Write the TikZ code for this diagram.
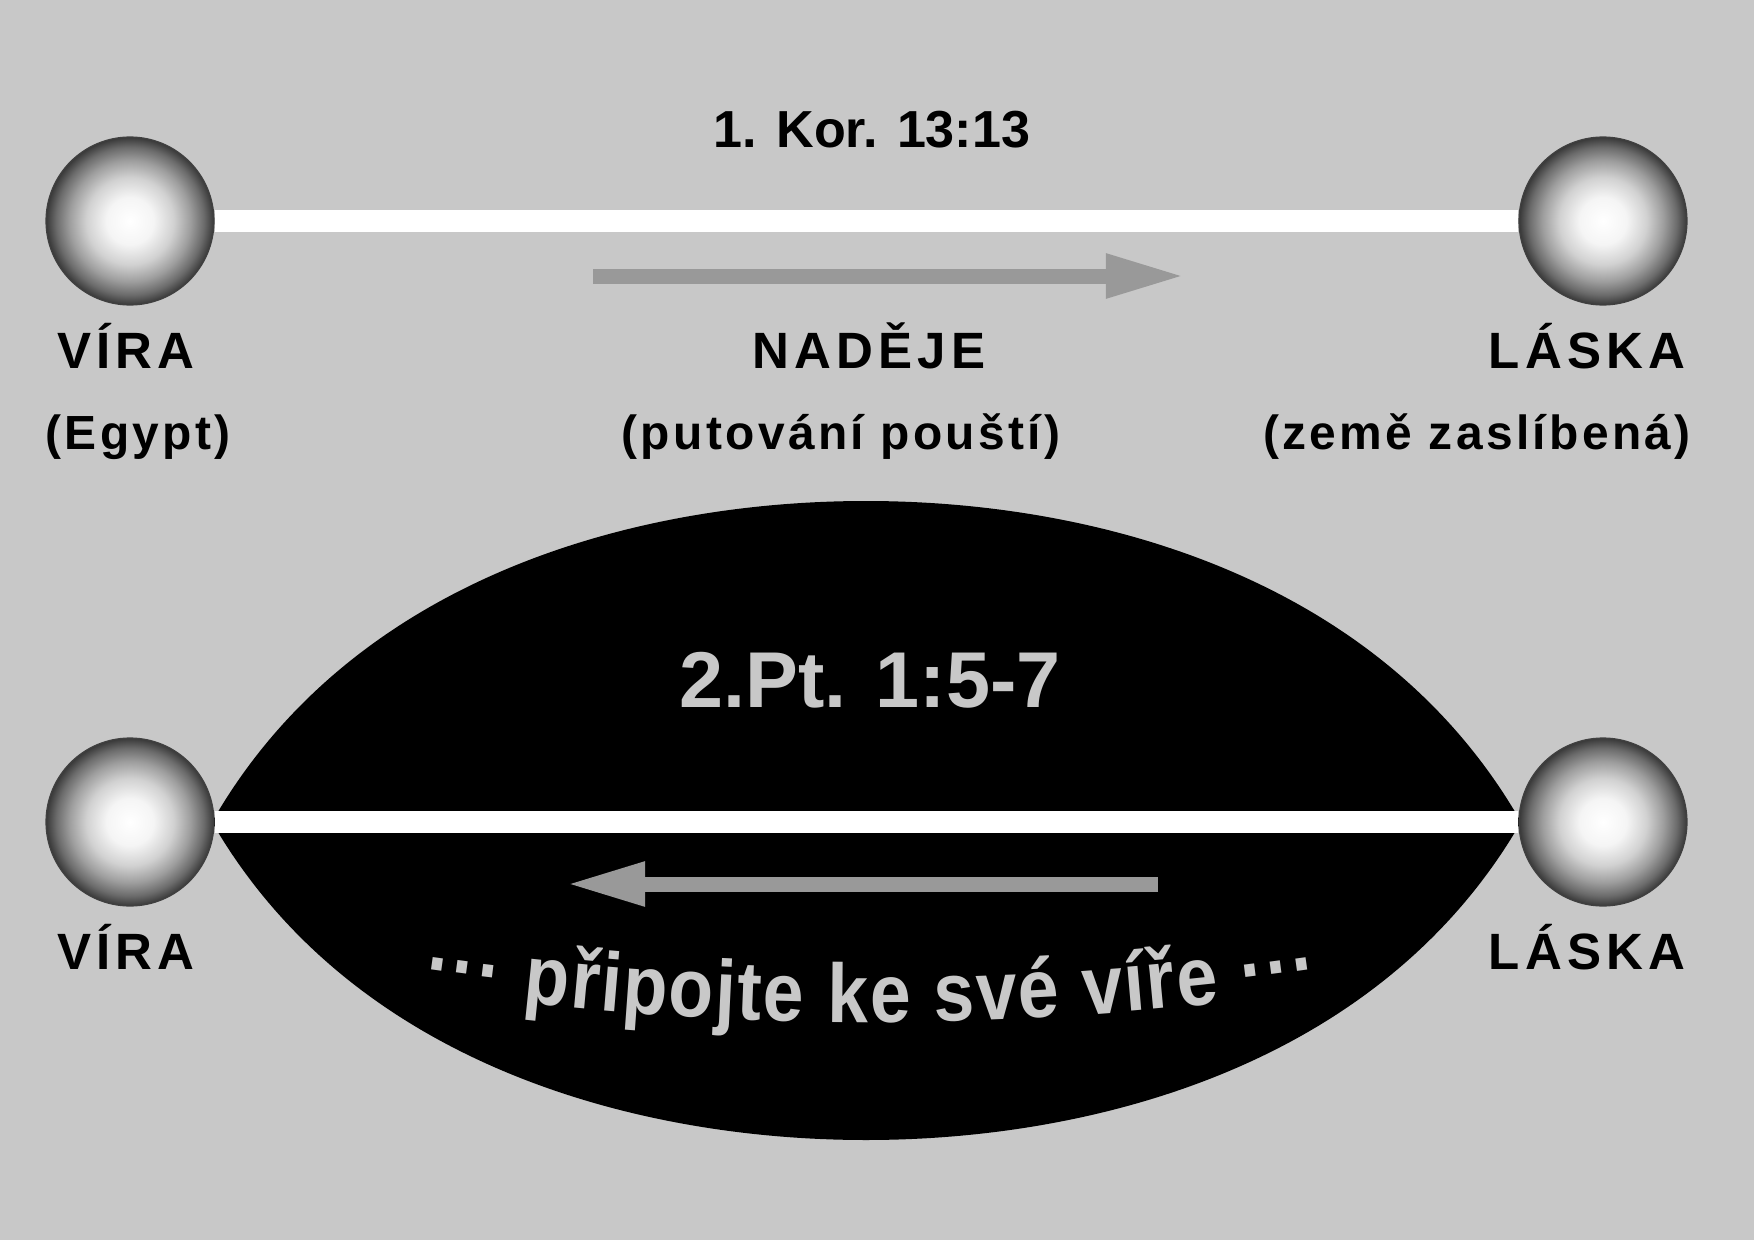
\documentclass[tikz,border=0pt]{standalone}
\usepackage{fontspec}
\setmainfont{Liberation Sans}
\newfontfamily\trackfont[LetterSpace=10]{Liberation Sans}
\newfontfamily\softtrack[LetterSpace=7]{Liberation Sans}
\newfontfamily\archfont[FakeStretch=0.88]{Liberation Sans}
\usepackage{tikz}
\usetikzlibrary{positioning, arrows.meta, decorations.text}
\usepackage{xcolor}
\definecolor{paper}{gray}{0.784}
\definecolor{arrowgray}{gray}{0.6}
\pgfdeclareradialshading{orb}{\pgfpoint{0bp}{0bp}}{color(0bp)=(white); color(7bp)=(black!4); color(13bp)=(black!18); color(18bp)=(black!38); color(22bp)=(black!58); color(25bp)=(black!78); color(50bp)=(black!78)}

\begin{document}
\begin{tikzpicture}[x=0.48pt, y=-0.48pt,
    orb/.style={circle, inner sep=0pt, minimum size=80.6pt, shading=orb, draw=black!75, line width=0.6pt},
    road/.style={white, line width=10.4pt},
    flow/.style={arrowgray, line width=7.2pt, -{Triangle[length=38pt, width=19.6pt]}},
    word/.style={anchor=base, font=\trackfont\fontsize{24.5}{28}\selectfont\bfseries},
    place/.style={anchor=base, font=\softtrack\fontsize{23}{27}\selectfont\bfseries},
    verse/.style={anchor=base, font=\fontsize{25}{30}\selectfont\bfseries}]

    \path[use as bounding box, fill=paper] (0,0) rectangle (1754,1240);

    \coordinate (tipL) at (212,822);
    \coordinate (tipR) at (1521,822);
    \coordinate (crown) at (866,501);
    \coordinate (keel) at (866,1140);
    \fill[black] (tipL) .. controls +(140,-245) and +(-230,0) .. (crown)
      .. controls +(230,0) and +(-140,-245) .. (tipR)
      .. controls +(-140,243) and +(228,0) .. (keel)
      .. controls +(-228,0) and +(140,243) .. (tipL) -- cycle;

    \node[orb] (viraT) at (130,221) {};
    \node[orb] (laskaT) at (1603,221) {};
    \node[orb] (viraB) at (130,822) {};
    \node[orb] (laskaB) at (1603,822) {};

    \draw[road] (viraT) -- (laskaT);
    \draw[road] (viraB) -- (laskaB);

    \coordinate (goS) at (593,276);
    \coordinate (goE) at (1185,276);
    \coordinate (backS) at (1158,884);
    \coordinate (backE) at (566,884);
    \draw[flow] (goS) -- (goE);
    \draw[flow] (backS) -- (backE);

    \node[verse] (kor) at (872,148) {1. Kor. 13:13};
    \node[word] (viraTlbl) at (126,368) {VÍRA};
    \node[place] (egypt) at (138,449) {(Egypt)};
    \node[word] (nadeje) at (869,368) {NADĚJE};
    \node[place] (poust) at (841,449) {(putování pouští)};
    \node[word] (laskaTlbl) at (1587,368) {LÁSKA};
    \node[place] (zeme) at (1477,449) {(země zaslíbená)};

    \node[anchor=base, text=paper, font=\fontsize{38}{44}\selectfont\bfseries] (petr) at (870,707) {2.Pt. 1:5-7};
    \node[word] (viraBlbl) at (126,969) {VÍRA};
    \node[word] (laskaBlbl) at (1587,969) {LÁSKA};

    \coordinate (archL) at (423,990);
    \coordinate (archR) at (1319,990);
    \path[decorate, decoration={text along path, text align=fit to path, text color=paper,
      text={|\archfont\fontsize{40}{44}\selectfont\bfseries|··· připojte ke své víře ···}}]
      (archL) .. controls (722,1033) and (1020,1033) .. (archR);
\end{tikzpicture}
\end{document}
